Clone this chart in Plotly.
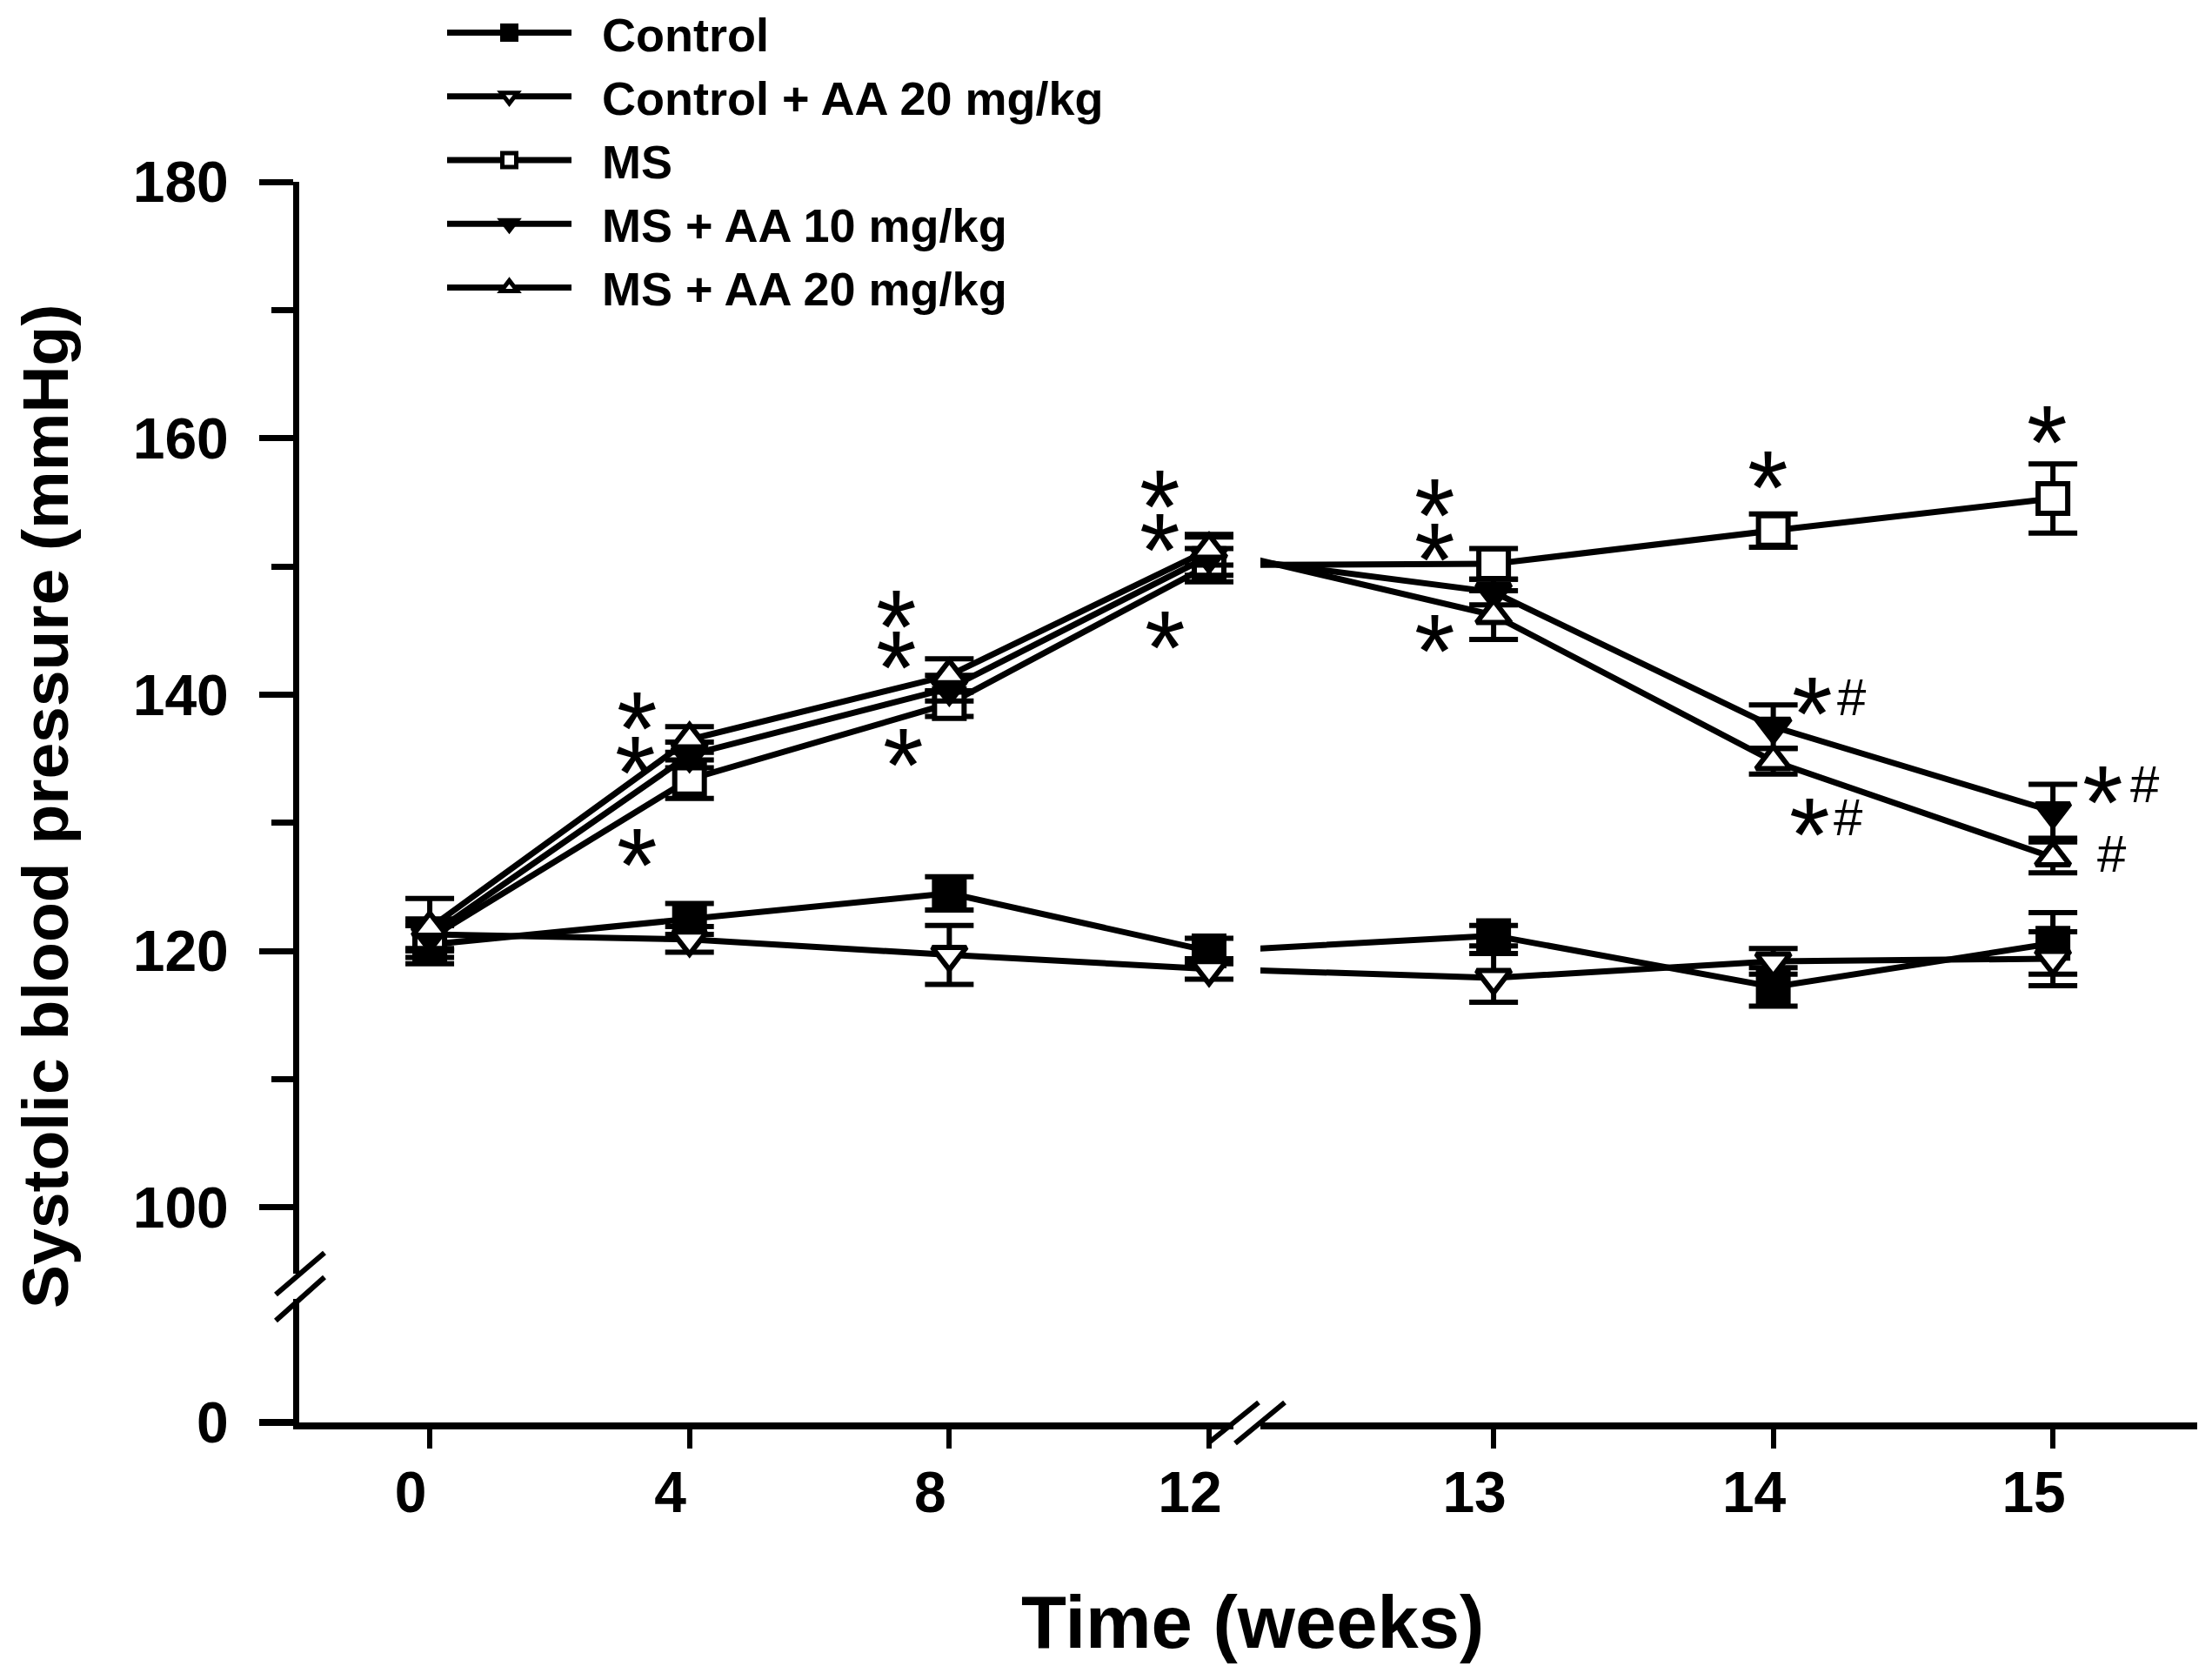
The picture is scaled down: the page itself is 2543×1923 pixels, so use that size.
import plotly.graph_objects as go

# weeks on the x axis (axis is broken between 12 and 13)
weeks = [0, 4, 8, 12, 13, 14, 15]
week_labels = ["0", "4", "8", "12", "13", "14", "15"]

# systolic blood pressure (mmHg), mean and SEM
control = [120.5, 122.5, 124.5, 120.0, 121.2, 117.2, 120.6]
control_se = [1.5, 1.2, 1.3, 1.0, 0.8, 1.5, 2.4]

control_aa20 = [121.3, 120.9, 119.7, 118.6, 117.9, 119.2, 119.4]
control_aa20_se = [1.2, 1.0, 2.3, 0.8, 1.9, 1.0, 2.1]

ms = [121.0, 133.4, 139.3, 150.1, 150.2, 152.8, 155.3]
ms_se = [1.0, 1.5, 1.0, 1.3, 1.2, 1.3, 2.7]

ms_aa10 = [121.2, 135.3, 140.5, 150.8, 148.0, 137.5, 130.9]
ms_aa10_se = [1.0, 1.0, 1.0, 1.5, 1.0, 1.7, 2.1]

ms_aa20 = [121.8, 136.5, 141.5, 151.3, 146.2, 134.8, 127.3]
ms_aa20_se = [2.3, 1.0, 1.3, 1.2, 1.9, 1.0, 1.2]

names = ["Control", "Control + AA 20 mg/kg", "MS", "MS + AA 10 mg/kg", "MS + AA 20 mg/kg"]
values = [control, control_aa20, ms, ms_aa10, ms_aa20]
errors = [control_se, control_aa20_se, ms_se, ms_aa10_se, ms_aa20_se]

# significance labels: (x axis, week position, mmHg position)
star_labels = [
    ("x", 3.19, 138.7), ("x", 3.16, 135.2), ("x", 3.19, 128.0),
    ("x", 7.19, 146.6), ("x", 7.19, 143.4), ("x", 7.29, 135.8),
    ("x", 11.24, 156.0), ("x", 11.24, 152.6), ("x", 11.32, 145.0),
    ("x2", 12.79, 155.3), ("x2", 12.79, 151.85), ("x2", 12.79, 144.7),
    ("x2", 13.98, 157.5), ("x2", 14.14, 139.8), ("x2", 14.13, 130.4),
    ("x2", 14.98, 161.0), ("x2", 15.18, 132.9),
]
hash_labels = [
    ("x2", 14.28, 139.8), ("x2", 14.27, 130.4),
    ("x2", 15.33, 133.0), ("x2", 15.21, 127.6),
]

# marker styles per series
symbols = ["square", "triangle-down", "square", "triangle-down", "triangle-up"]
fills = ["black", "white", "white", "black", "white"]

FONT = "Liberation Sans"
# the page body adds an 8px margin, so the figure sits 8px in from the corner
OFF = 8
W, H = 2543 - 2 * OFF, 1923 - 2 * OFF
# plot area in screen pixels
X0, X1, Y0, Y1 = 344, 2526, 209, 1635
PW, PH = X1 - X0, Y1 - Y0


def px_x(px):
    return (px - X0) / PW


def px_y(py):
    return (Y1 - py) / PH


fig = go.Figure()

for name, vals, se, sym, fill in zip(names, values, errors, symbols, fills):
    style = dict(
        mode="lines+markers",
        line=dict(color="black", width=7),
        marker=dict(symbol=sym, size=34, color=fill, line=dict(color="black", width=6)),
        legendgroup=name,
        name="\u00a0\u00a0" + name,
    )
    # first segment: weeks 0-12
    fig.add_trace(go.Scatter(
        x=weeks[:4], y=vals[:4],
        error_y=dict(type="data", array=se[:4], color="black", thickness=6, width=28),
        xaxis="x", yaxis="y", showlegend=True, **style))
    # second segment: weeks 12-15 (week 12 lies left of the break and is clipped)
    fig.add_trace(go.Scatter(
        x=weeks[3:], y=vals[3:],
        error_y=dict(type="data", array=se[3:], color="black", thickness=6, width=28),
        xaxis="x2", yaxis="y", showlegend=False, **style))

# empty traces so the lower (0) y segment forms subplots with both x segments
for xa in ["x", "x2"]:
    fig.add_trace(go.Scatter(x=[None], y=[None], xaxis=xa, yaxis="y2",
                             showlegend=False, hoverinfo="skip", mode="markers"))

tickfont = dict(family=FONT, size=66, color="black", weight="bold")
xcommon = dict(
    showline=True, linewidth=8, linecolor="black",
    ticks="outside", ticklen=22, tickwidth=6, tickcolor="black",
    showgrid=False, zeroline=False, anchor="y2",
    tickfont=tickfont, ticklabelstandoff=-6, ticklabelshift=-22,
)
ycommon = dict(
    showline=True, linewidth=7, linecolor="black",
    ticks="outside", ticklen=39, tickcolor="black",
    showgrid=False, zeroline=False, anchor="x",
    tickfont=tickfont, ticklabelstandoff=22,
)

fig.update_layout(
    width=W, height=H,
    margin=dict(l=X0 - OFF, r=W + OFF - X1, t=Y0 - OFF, b=H + OFF - Y1, autoexpand=False),
    paper_bgcolor="white", plot_bgcolor="white",
    xaxis=dict(domain=[0, px_x(1418)], range=[-2.01, 12.375],
               tickmode="array", tickvals=weeks[:4], ticktext=week_labels[:4], **xcommon),
    xaxis2=dict(domain=[px_x(1449), 1], range=[12.166, 15.516],
                tickmode="array", tickvals=weeks[4:], ticktext=week_labels[4:], **xcommon),
    yaxis=dict(domain=[px_y(1464), 1], range=[94.83, 180],
               tick0=0, dtick=20, tickwidth=7,
               minor=dict(dtick=10, tick0=0, ticks="outside", ticklen=25,
                          tickwidth=7, tickcolor="black", showgrid=False),
               **ycommon),
    yaxis2=dict(domain=[0, px_y(1493)], range=[0, 9.66],
                tickmode="array", tickvals=[0], ticktext=["0"], tickwidth=8,
                **ycommon),
    legend=dict(
        x=px_x(509), y=px_y(-4), xanchor="left", yanchor="top",
        font=dict(family=FONT, size=54, color="black", weight="bold"),
        itemwidth=143, tracegroupgap=0, bgcolor="rgba(0,0,0,0)",
    ),
    showlegend=True,
)

annotations = [
    dict(text="Systolic blood pressure (mmHg)", xref="paper", yref="paper",
         x=px_x(52), y=px_y(927), textangle=-90, showarrow=False,
         xanchor="center", yanchor="middle",
         font=dict(family=FONT, size=75, color="black", weight="bold")),
    dict(text="Time (weeks)", xref="paper", yref="paper",
         x=px_x(1440), y=px_y(1864), showarrow=False,
         xanchor="center", yanchor="middle",
         font=dict(family=FONT, size=85, color="black", weight="bold")),
]
for ax, xv, yv in star_labels:
    annotations.append(dict(text="*", xref=ax, yref="y", x=xv, y=yv, showarrow=False,
                            xanchor="center", yanchor="middle", yshift=-19,
                            font=dict(family=FONT, size=120, color="black")))
for ax, xv, yv in hash_labels:
    annotations.append(dict(text="#", xref=ax, yref="y", x=xv, y=yv, showarrow=False,
                            xanchor="center", yanchor="middle",
                            font=dict(family=FONT, size=60, color="black")))
fig.update_layout(annotations=annotations)

# axis break marks (screen pixels of the reference)
breaks = [
    ((1390, 1658), (1447, 1612)), ((1420, 1659), (1477, 1612)),
    ((317, 1488), (373, 1440)), ((317, 1518), (373, 1468)),
]
shapes = []
for (x0, y0), (x1, y1) in breaks:
    shapes.append(dict(type="line", xref="paper", yref="paper",
                       x0=px_x(x0), y0=px_y(y0), x1=px_x(x1), y1=px_y(y1),
                       line=dict(color="black", width=6)))
fig.update_layout(shapes=shapes)

fig.write_html("out.html")
